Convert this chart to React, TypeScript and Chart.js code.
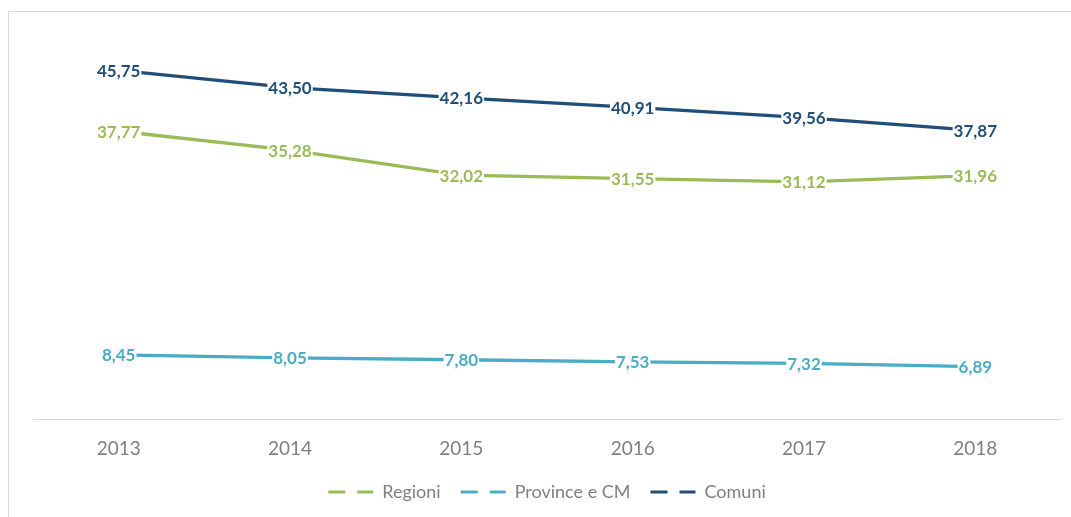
import React, { useEffect, useRef } from "react";
import { Chart, registerables } from "chart.js";

Chart.register(...registerables);

const categories = ["2013", "2014", "2015", "2016", "2017", "2018"];
const regioni = [37.77, 35.28, 32.02, 31.55, 31.12, 31.96];
const province = [8.45, 8.05, 7.8, 7.53, 7.32, 6.89];
const comuni = [45.75, 43.5, 42.16, 40.91, 39.56, 37.87];
const seriesNames = ["Regioni", "Province e CM", "Comuni"];
const seriesColors = ["#9BBB59", "#4BACC6", "#1F4E79"];

const fmt = (v: number) => v.toFixed(2).replace(".", ",");

const borderPlugin = {
  id: "outerBorder",
  beforeDraw(chart: any) {
    const ctx = chart.ctx;
    ctx.save();
    ctx.fillStyle = "#ffffff";
    ctx.fillRect(0, 0, chart.width, chart.height);
    ctx.strokeStyle = "#d9d9d9";
    ctx.lineWidth = 1;
    ctx.strokeRect(8.5, 11.5, 2000, 2000);
    ctx.restore();
  },
};

const labelPlugin = {
  id: "valueLabels",
  afterDatasetsDraw(chart: any) {
    const ctx = chart.ctx;
    ctx.save();
    ctx.font = "bold 17px Lato";
    ctx.textAlign = "center";
    ctx.textBaseline = "middle";
    chart.data.datasets.forEach((ds: any, i: number) => {
      const meta = chart.getDatasetMeta(i);
      meta.data.forEach((pt: any, j: number) => {
        const text = fmt(ds.data[j]);
        const w = ctx.measureText(text).width;
        ctx.fillStyle = "#ffffff";
        ctx.fillRect(pt.x - w / 2 - 1, pt.y - 7, w + 2, 15);
        ctx.fillStyle = ds.borderColor;
        ctx.fillText(text, pt.x, pt.y + 1);
      });
    });
    ctx.restore();
  },
};

export default function App() {
  const ref = useRef<HTMLCanvasElement | null>(null);
  useEffect(() => {
    if (!ref.current) return;
    const data = [regioni, province, comuni];
    const chart = new Chart(ref.current, {
      type: "line",
      data: {
        labels: categories,
        datasets: data.map((d, i) => ({
          label: seriesNames[i],
          data: d,
          borderColor: seriesColors[i],
          backgroundColor: seriesColors[i],
          borderWidth: 3.3,
          pointRadius: 0,
          tension: 0,
          fill: false,
        })),
      },
      options: {
        animation: false,
        responsive: true,
        maintainAspectRatio: false,
        layout: { padding: { left: 33, right: 10, top: 38, bottom: 6 } },
        scales: {
          x: {
            offset: true,
            grid: { display: false, drawTicks: false },
            border: { display: true, color: "#d9d9d9", width: 1 },
            ticks: {
              color: "#7f7f7f",
              font: { family: "Lato", size: 19 },
              padding: 18,
            },
            afterFit: (scale: any) => {
              scale.height -= 15;
            },
          },
          y: { display: false, min: 0, max: 50 },
        },
        plugins: {
          tooltip: { enabled: false },
          legend: {
            position: "bottom",
            labels: {
              usePointStyle: true,
              pointStyle: "line",
              pointStyleWidth: 45,
              boxHeight: 3,
              padding: 20,
              color: "#7f7f7f",
              font: { family: "Lato", size: 18 },
              generateLabels: (c: any) =>
                c.data.datasets.map((ds: any, i: number) => ({
                  text: ds.label,
                  fillStyle: ds.borderColor,
                  strokeStyle: ds.borderColor,
                  lineWidth: 3,
                  lineDash: [17, 12],
                  pointStyle: "line",
                  fontColor: "#7f7f7f",
                  hidden: false,
                  datasetIndex: i,
                })),
            },
          },
        },
      },
      plugins: [borderPlugin, labelPlugin],
    });
    return () => chart.destroy();
  }, []);
  return (
    <div style={{ position: "absolute", left: 0, top: 0, width: 1071, height: 517 }}>
      <canvas ref={ref} />
    </div>
  );
}
